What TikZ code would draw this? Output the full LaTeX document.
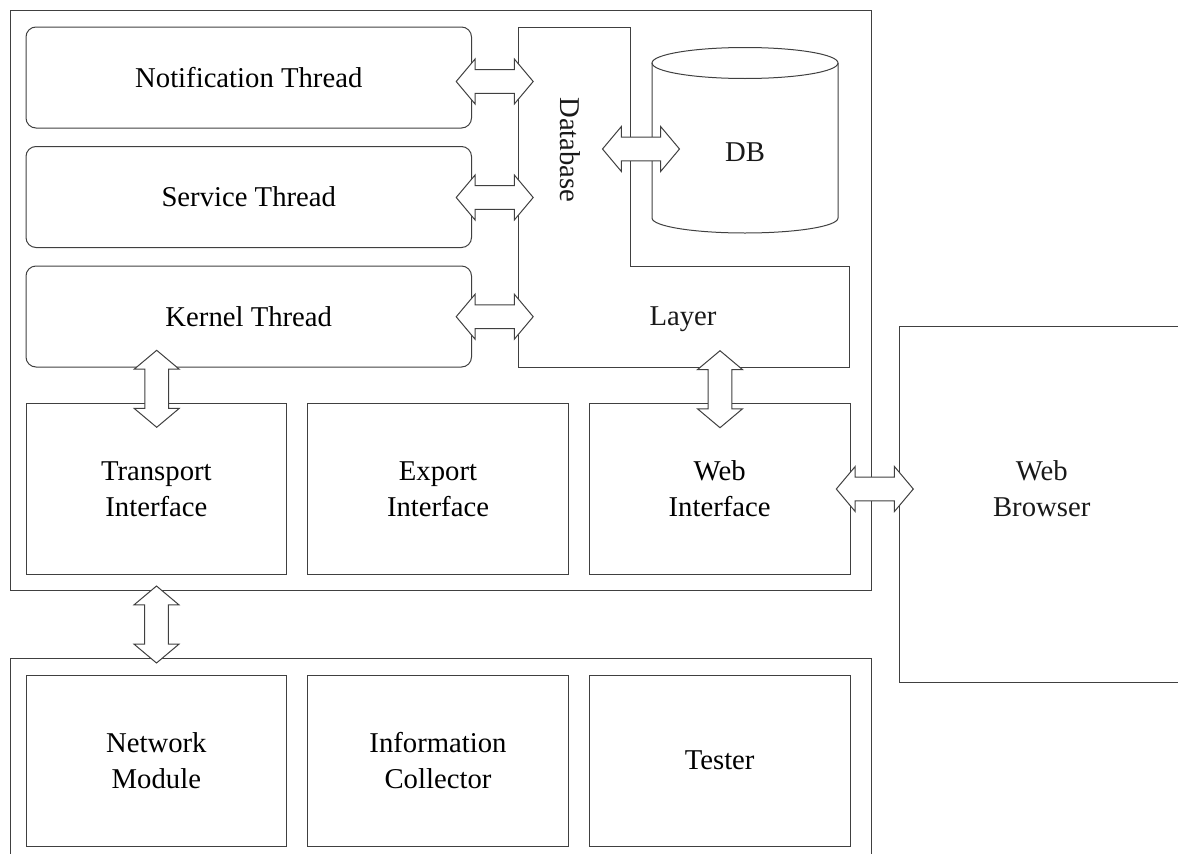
\documentclass[tikz,border=0pt]{standalone}
\usepackage{fontspec}
\setmainfont{Liberation Serif}
\usetikzlibrary{shapes.arrows}
\newcommand\lblfont{\fontsize{28.7}{36}\selectfont}
\tikzset{
  ln/.style={draw=black!75, line width=1pt},
  box/.style={ln, rectangle, inner sep=0pt, font=\lblfont, align=center},
  thread/.style={box, rounded corners=10pt},
  lbl/.style={inner sep=0pt, font=\lblfont, align=center, text=black!90},
  blockarrow/.style={ln, fill=white, double arrow, inner xsep=0pt, inner ysep=11.3pt,
    minimum height=77pt, minimum width=0pt,
    double arrow head extend=10.7pt, double arrow tip angle=100},
}
\begin{document}
\begin{tikzpicture}[x=1pt, y=-1pt]
\useasboundingbox (0,0) rectangle (1178,854);
\clip (0,0) rectangle (1178,854);

% server block
\node[box, minimum width=860.3pt, minimum height=580pt] (server) at (440.85,300.7) {};
\node[thread, minimum width=445.5pt, minimum height=101pt] (notif) at (248.75,77.5) {Notification Thread};
\node[thread, minimum width=445.5pt, minimum height=101pt] (serv) at (248.75,197) {Service Thread};
\node[thread, minimum width=445.5pt, minimum height=101pt] (kern) at (248.75,316.5) {Kernel Thread};

% database layer (L-shaped) and the store
\draw[ln] (518.7,27) -- (630,27) -- (630,266) -- (849.5,266) -- (849.5,367) -- (518.7,367) -- cycle;
\node[lbl, rotate=-90] (dbtext) at (570,150) {Database};
\node[lbl] (layer) at (683,319) {Layer};
\draw[ln] (652,63) -- (652,218) arc[start angle=180, end angle=360, x radius=93, y radius=-15] -- (838,63);
\draw[ln] (745,63) ellipse[x radius=93, y radius=15.5];
\node[lbl] (db) at (745,152) {DB};

% interfaces
\node[box, minimum width=260.7pt, minimum height=171.2pt] (transport) at (156.35,488.9) {Transport\\Interface};
\node[box, minimum width=260.7pt, minimum height=171.2pt] (export) at (438,488.9) {Export\\Interface};
\node[box, minimum width=260.7pt, minimum height=171.2pt] (web) at (719.65,488.9) {Web\\Interface};

% client side
\node[box, minimum width=860.3pt, minimum height=221.7pt] (clients) at (440.85,769.15) {};
\node[box, minimum width=260.7pt, minimum height=171pt] (network) at (156.35,760.5) {Network\\Module};
\node[box, minimum width=260.7pt, minimum height=171pt] (collector) at (438,760.5) {Information\\Collector};
\node[box, minimum width=260.7pt, minimum height=171pt] (tester) at (719.65,760.5) {Tester};

% browser
\node[box, minimum width=300pt, minimum height=356.7pt] (browser) at (1049.3,504.35) {};
\node[lbl] (browsertext) at (1041.7,489) {Web\\Browser};

% block arrows
\node[blockarrow] (n2db) at (494.7,81.5) {};
\node[blockarrow] (s2db) at (494.7,197.5) {};
\node[blockarrow] (k2db) at (494.7,316.7) {};
\node[blockarrow] (layer2store) at (641,149) {};
\node[blockarrow, rotate=90] (k2t) at (156.7,388.8) {};
\node[blockarrow, rotate=90] (layer2web) at (720,389.2) {};
\node[blockarrow, rotate=90] (server2clients) at (156.5,624.5) {};
\node[blockarrow] (web2browser) at (874.8,489) {};
\end{tikzpicture}
\end{document}
